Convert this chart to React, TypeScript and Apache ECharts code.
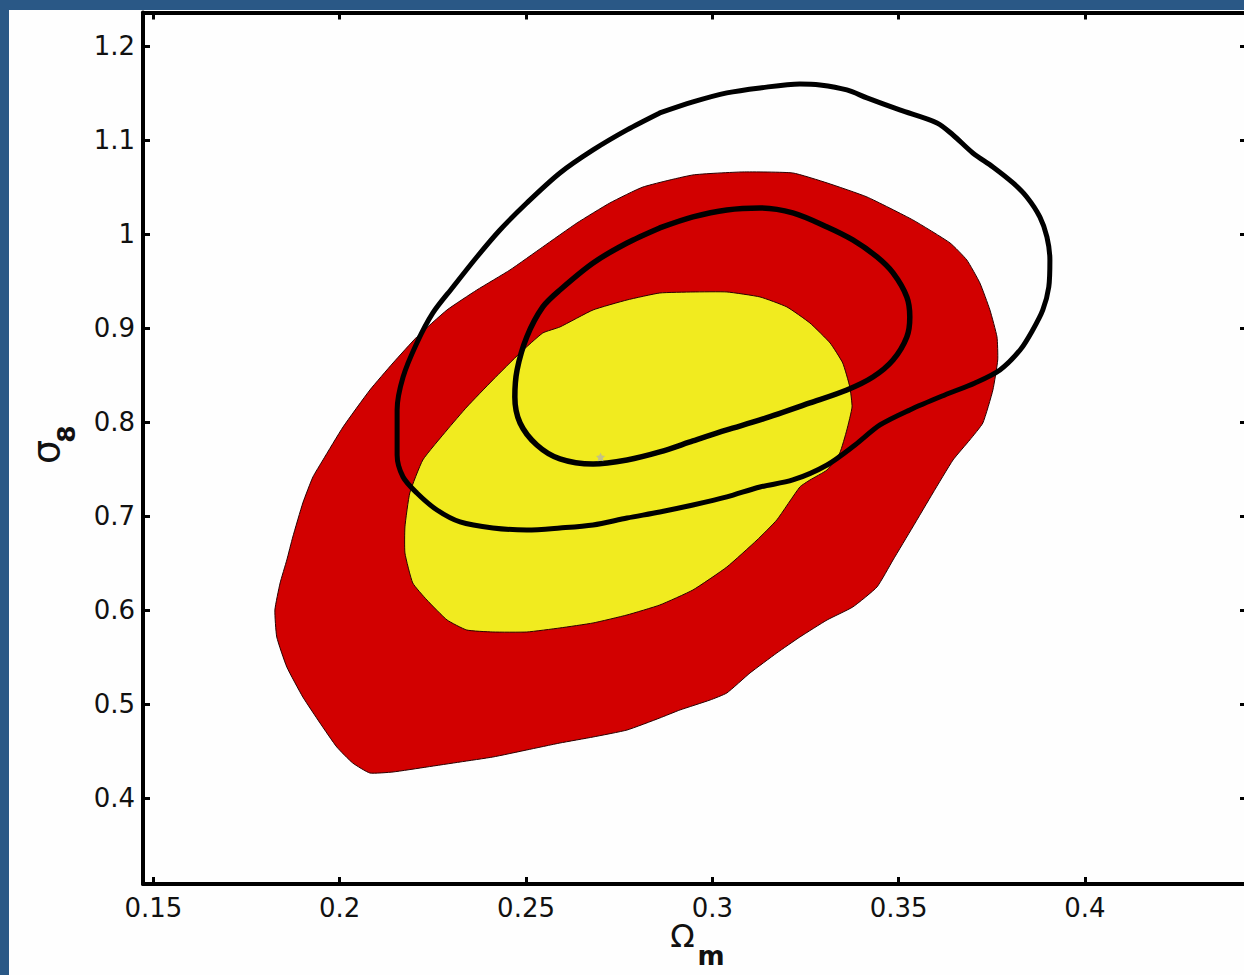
import React, { useEffect, useRef } from "react";
import * as echarts from "echarts";

// Axis ticks
const xTicks = [0.15, 0.2, 0.25, 0.3, 0.35, 0.4];
const yTicks = [0.4, 0.5, 0.6, 0.7, 0.8, 0.9, 1.0, 1.1, 1.2];
const xRange = [0.1472, 0.4435];
const yRange = [0.3091, 1.2356];

// Outer (2-sigma) filled region, red
const redRegion: [number, number][] = [
  [0.2725, 1.0331], [0.2814, 1.0501], [0.2948, 1.0629], [0.3082, 1.0661], [0.3216, 1.065],
  [0.3308, 1.0544], [0.3415, 1.0395], [0.3538, 1.0151], [0.3638, 0.9906], [0.3683, 0.9725],
  [0.3718, 0.9481], [0.3745, 0.9194], [0.3764, 0.8907], [0.3766, 0.8662], [0.3753, 0.8343],
  [0.3726, 0.7992], [0.3691, 0.7812], [0.3646, 0.7599], [0.3592, 0.7248], [0.3538, 0.6887],
  [0.3485, 0.6536], [0.3442, 0.6249], [0.3377, 0.6036], [0.3308, 0.5898], [0.3235, 0.5717],
  [0.3173, 0.5547], [0.3101, 0.5334], [0.3039, 0.5122], [0.2994, 0.5047], [0.2913, 0.4941],
  [0.2859, 0.4856], [0.2771, 0.4728], [0.268, 0.4654], [0.2591, 0.459], [0.2502, 0.4516],
  [0.2411, 0.4441], [0.2323, 0.4388], [0.2234, 0.4335], [0.2143, 0.4282], [0.2081, 0.4271],
  [0.2035, 0.4377], [0.1992, 0.4548], [0.1947, 0.4803], [0.1901, 0.5079], [0.1858, 0.5398],
  [0.1831, 0.5717], [0.1826, 0.6004], [0.184, 0.6291], [0.1858, 0.6536], [0.1874, 0.678],
  [0.1901, 0.7142], [0.1928, 0.7418], [0.1955, 0.7599], [0.2009, 0.795], [0.2081, 0.8343],
  [0.2143, 0.863], [0.2207, 0.8907], [0.2288, 0.9194], [0.2368, 0.9406], [0.2457, 0.9619],
  [0.2545, 0.9864], [0.2637, 1.0119],
];

// Inner (1-sigma) filled region, yellow
const yellowRegion: [number, number][] = [
  [0.2859, 0.9374], [0.2948, 0.9385], [0.3039, 0.9385], [0.3128, 0.9332], [0.32, 0.9226],
  [0.3262, 0.9055], [0.3316, 0.8843], [0.335, 0.863], [0.3369, 0.8375], [0.3375, 0.8162],
  [0.3361, 0.7918], [0.3342, 0.7673], [0.3308, 0.7493], [0.3262, 0.7386], [0.3235, 0.7312],
  [0.3173, 0.6961], [0.312, 0.6748], [0.3039, 0.6461], [0.2948, 0.6217], [0.2859, 0.6057],
  [0.2771, 0.5951], [0.268, 0.5866], [0.2591, 0.5813], [0.2502, 0.577], [0.2411, 0.577],
  [0.2341, 0.5791], [0.2288, 0.5898], [0.2234, 0.611], [0.2196, 0.6291], [0.2175, 0.661],
  [0.2175, 0.6887], [0.2188, 0.7248], [0.2223, 0.7599], [0.2288, 0.7918], [0.2341, 0.8162],
  [0.2411, 0.845], [0.2484, 0.8737], [0.2545, 0.8949], [0.2591, 0.9013], [0.268, 0.9194],
  [0.2771, 0.93],
];

// Outer black contour (2-sigma, second data set)
const outerContour: [number, number][] = [
  [0.2859, 1.1288], [0.2948, 1.1405], [0.3039, 1.1501], [0.3128, 1.1554], [0.3235, 1.1597],
  [0.3289, 1.1586], [0.3361, 1.1533], [0.3415, 1.1448], [0.3503, 1.132], [0.3603, 1.1182],
  [0.3646, 1.1054], [0.3699, 1.0863], [0.3753, 1.0714], [0.3807, 1.0544], [0.3844, 1.0395],
  [0.3879, 1.0183], [0.3898, 0.997], [0.3906, 0.9725], [0.3903, 0.9438], [0.3887, 0.9194],
  [0.386, 0.8981], [0.3826, 0.8768], [0.3772, 0.8556], [0.3705, 0.8418], [0.3624, 0.829],
  [0.353, 0.8131], [0.345, 0.7971], [0.3383, 0.7758], [0.3308, 0.7546], [0.3216, 0.7386],
  [0.3128, 0.7312], [0.3039, 0.7206], [0.2948, 0.712], [0.2859, 0.7046], [0.2771, 0.6982],
  [0.268, 0.6908], [0.2591, 0.6876], [0.2502, 0.6855], [0.2411, 0.6876], [0.2323, 0.694],
  [0.2261, 0.7067], [0.2207, 0.7248], [0.217, 0.7418], [0.2154, 0.7652], [0.2154, 0.7843],
  [0.2154, 0.8131], [0.217, 0.8481], [0.2207, 0.8843], [0.225, 0.9162], [0.2304, 0.9438],
  [0.2368, 0.9757], [0.243, 1.0044], [0.2502, 1.0331], [0.2591, 1.065], [0.268, 1.0895],
  [0.2771, 1.1108],
];

// Inner black contour (1-sigma, second data set)
const innerContour: [number, number][] = [
  [0.2859, 1.0066], [0.2948, 1.0183], [0.3039, 1.0257], [0.3128, 1.0278], [0.3216, 1.0225],
  [0.3308, 1.0076], [0.3377, 0.9938], [0.3442, 0.9757], [0.3485, 0.9587], [0.3522, 0.9332],
  [0.353, 0.9119], [0.3522, 0.8907], [0.3485, 0.8662], [0.3431, 0.8481], [0.3361, 0.8343],
  [0.3262, 0.8205], [0.3128, 0.8024], [0.3039, 0.7918], [0.2948, 0.7801], [0.2859, 0.7684],
  [0.2771, 0.7599], [0.268, 0.7556], [0.2591, 0.761], [0.2529, 0.7758], [0.2484, 0.7992],
  [0.247, 0.8269], [0.2476, 0.8556], [0.2502, 0.8907], [0.2545, 0.9226], [0.2591, 0.9406],
  [0.268, 0.9693], [0.2771, 0.9906],
];

// Best-fit marker
const bestFit: [number, number][] = [[0.27, 0.763]];

const fmt = (v: number) => String(+Number(v).toFixed(2));

export default function App() {
  const ref = useRef<HTMLDivElement>(null);

  useEffect(() => {
    if (!ref.current) return;
    const chart = echarts.init(ref.current, null, { renderer: "svg" });

    const polygonSeries = (pts: [number, number][], fill: string, z: number) => ({
      type: "custom",
      xAxisIndex: 0,
      yAxisIndex: 0,
      z,
      data: [pts[0]],
      silent: true,
      renderItem: (_params: any, api: any) => ({
        type: "polygon",
        shape: { points: pts.map((p) => api.coord(p)), smooth: 0.15 },
        style: { fill, stroke: "#2a0000", lineWidth: 1 },
      }),
    });

    const contourSeries = (pts: [number, number][], width: number) => ({
      type: "line",
      xAxisIndex: 0,
      yAxisIndex: 0,
      z: 5,
      data: [...pts, pts[0]],
      symbol: "none",
      smooth: 0.3,
      silent: true,
      lineStyle: { color: "#000", width, join: "round", cap: "round" },
    });

    const axisLine = { show: true, lineStyle: { color: "#000", width: 4 } };
    const tickStyle = { color: "#000", width: 3 };
    const labelStyle = {
      fontFamily: "DejaVu Sans, Liberation Sans, Arial, sans-serif",
      fontSize: 26,
      color: "#111",
    };

    chart.setOption({
      animation: false,
      backgroundColor: "transparent",
      grid: { left: 134, top: 2.5, right: 2, bottom: 91, outerBoundsMode: "none", containLabel: false },
      xAxis: [
        {
          type: "value",
          position: "bottom",
          min: xRange[0],
          max: xRange[1],
          axisLine,
          axisTick: { show: true, inside: true, length: 7, lineStyle: tickStyle, customValues: xTicks },
          axisLabel: { ...labelStyle, margin: 11, customValues: xTicks, formatter: fmt },
          splitLine: { show: false },
        },
        {
          type: "value",
          position: "top",
          min: xRange[0],
          max: xRange[1],
          axisLine,
          axisTick: { show: true, inside: true, length: 7, lineStyle: tickStyle, customValues: xTicks },
          axisLabel: { show: false },
          splitLine: { show: false },
        },
      ],
      yAxis: [
        {
          type: "value",
          position: "left",
          min: yRange[0],
          max: yRange[1],
          axisLine,
          axisTick: { show: true, inside: true, length: 7, lineStyle: tickStyle, customValues: yTicks },
          axisLabel: { ...labelStyle, margin: 8, customValues: yTicks, formatter: fmt },
          splitLine: { show: false },
        },
        {
          type: "value",
          position: "right",
          min: yRange[0],
          max: yRange[1],
          axisLine,
          axisTick: { show: true, inside: true, length: 7, lineStyle: tickStyle, customValues: yTicks },
          axisLabel: { show: false },
          splitLine: { show: false },
        },
      ],
      series: [
        polygonSeries(redRegion, "#d20000", 2),
        polygonSeries(yellowRegion, "#f1eb1f", 3),
        contourSeries(outerContour, 5),
        contourSeries(innerContour, 5.5),
        {
          type: "scatter",
          z: 6,
          data: bestFit,
          symbol:
            "path://M0,-10 L2.9,-4 L9.5,-3.1 L4.8,1.5 L5.9,8.1 L0,5 L-5.9,8.1 L-4.8,1.5 L-9.5,-3.1 L-2.9,-4 Z",
          symbolSize: 9,
          itemStyle: { color: "#b8b8a0" },
          silent: true,
        },
      ],
      graphic: [
        {
          type: "text",
          x: 673.5,
          y: 925.5,
          style: {
            text: "Ω",
            fontFamily: "DejaVu Sans, Liberation Sans, sans-serif",
            fontSize: 32,
            fill: "#111",
            align: "center",
            verticalAlign: "middle",
          },
        },
        {
          type: "text",
          x: 702,
          y: 946,
          style: {
            text: "m",
            fontFamily: "DejaVu Sans, Liberation Sans, sans-serif",
            fontWeight: "bold",
            fontSize: 26,
            fill: "#111",
            align: "center",
            verticalAlign: "middle",
          },
        },
        {
          type: "text",
          x: 37,
          y: 442,
          rotation: Math.PI / 2,
          style: {
            text: "σ",
            fontFamily: "DejaVu Sans, Liberation Sans, sans-serif",
            fontSize: 38,
            fill: "#111",
            align: "center",
            verticalAlign: "middle",
          },
        },
        {
          type: "text",
          x: 57,
          y: 424,
          rotation: Math.PI / 2,
          style: {
            text: "8",
            fontFamily: "DejaVu Sans, Liberation Sans, sans-serif",
            fontWeight: "bold",
            fontSize: 25,
            fill: "#111",
            align: "center",
            verticalAlign: "middle",
          },
        },
      ],
    });

    return () => chart.dispose();
  }, []);

  return (
    <div
      style={{
        position: "fixed",
        left: 0,
        top: 0,
        width: 1244,
        height: 975,
        background: "#2a5886",
        overflow: "hidden",
      }}
    >
      <div
        ref={ref}
        style={{
          position: "absolute",
          left: 9,
          top: 10,
          width: 1240,
          height: 965,
          background: "#fefefe",
        }}
      />
    </div>
  );
}
